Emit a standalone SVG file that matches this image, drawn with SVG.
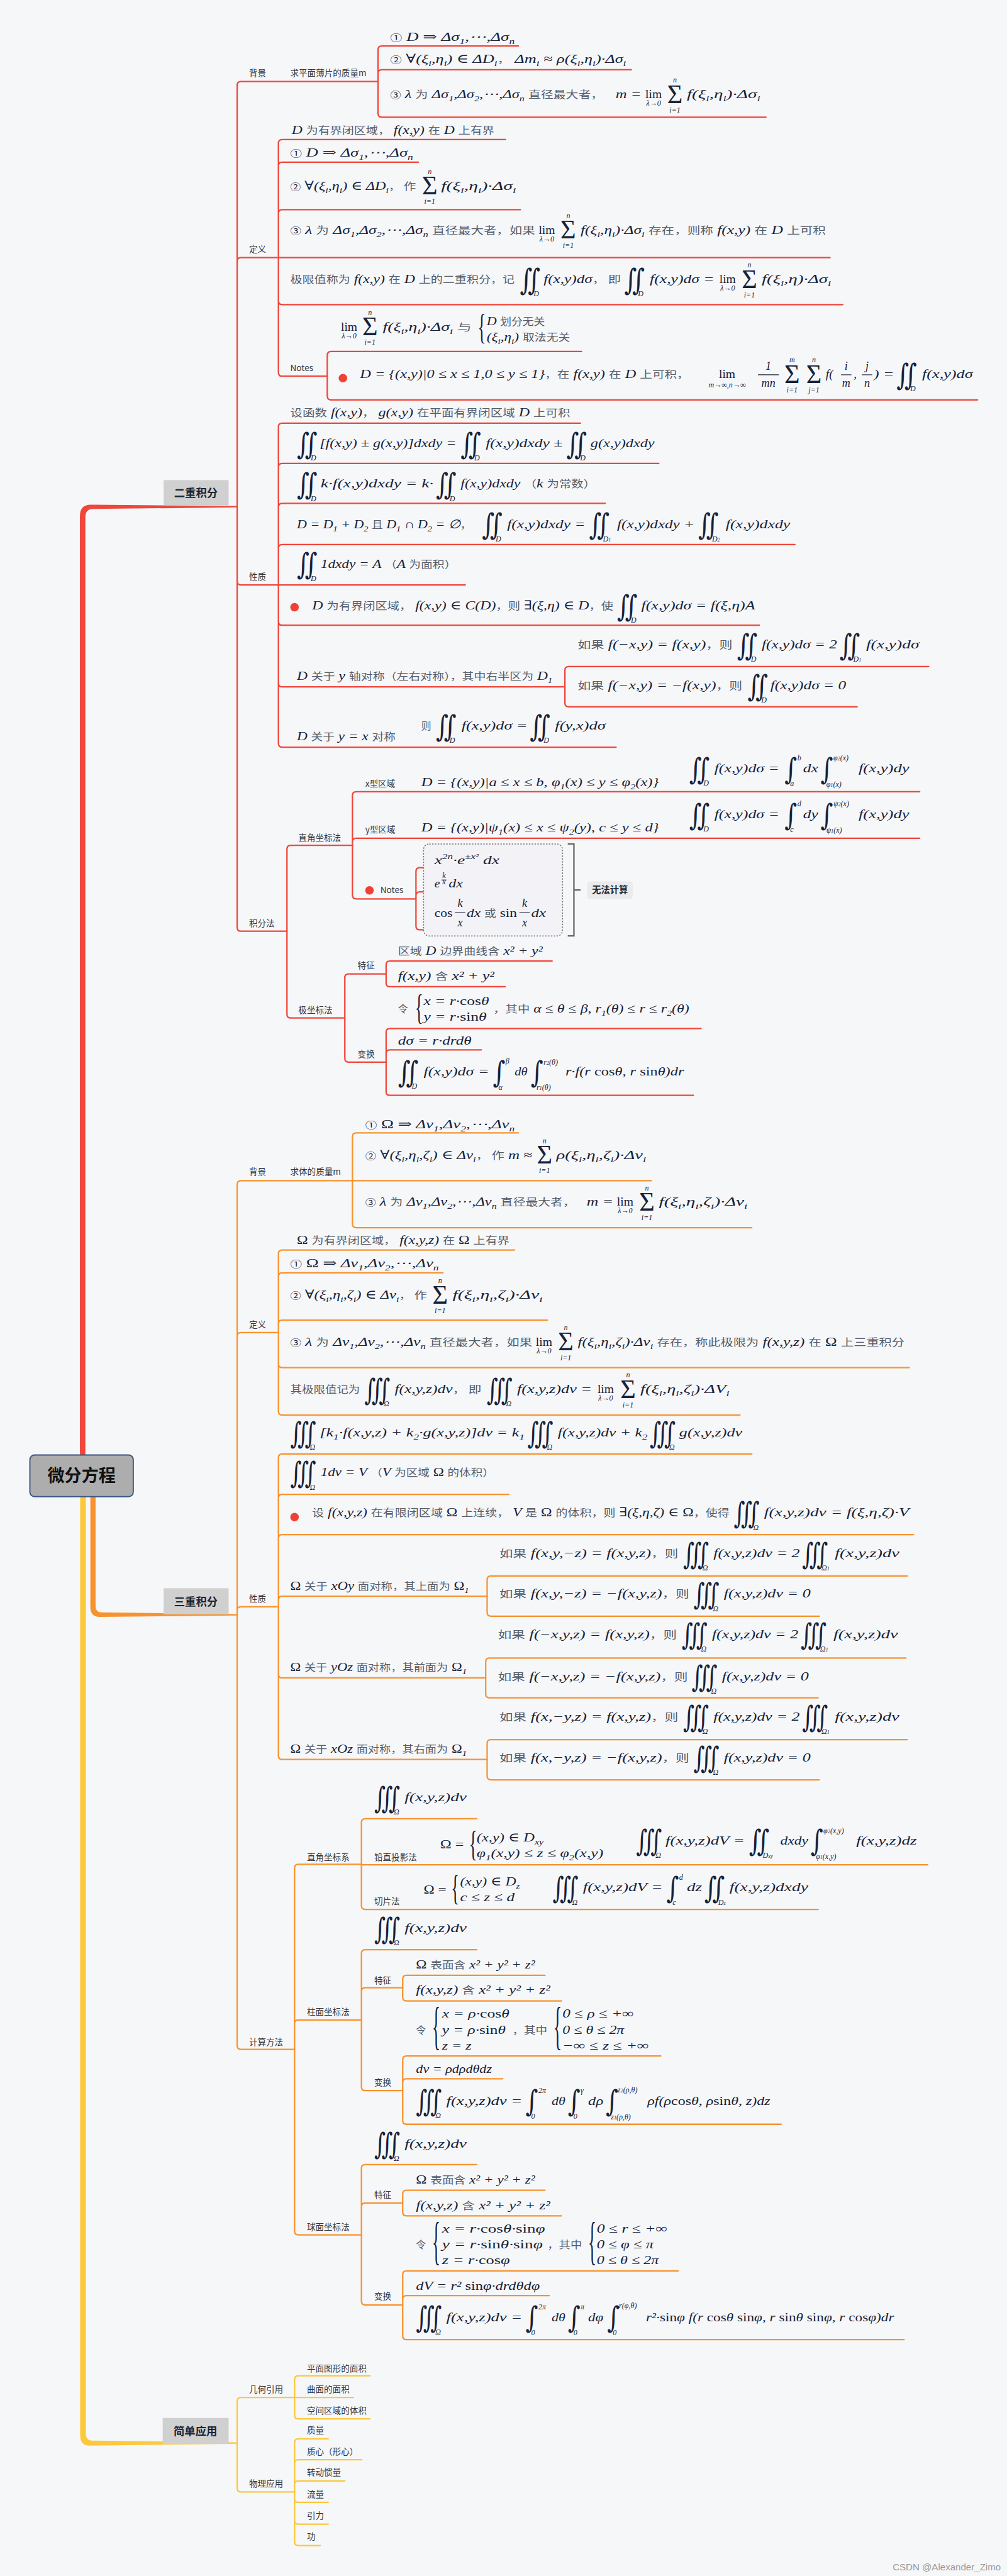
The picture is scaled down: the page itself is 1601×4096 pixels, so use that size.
<svg xmlns="http://www.w3.org/2000/svg" width="1601" height="4096" viewBox="0 0 1601 4096">
<style>
.m{font-family:"Liberation Serif","DejaVu Serif",serif;font-style:italic;font-size:26px;fill:#172238}
.u{font-style:normal}
.cn{font-family:"Noto Sans CJK SC",sans-serif;font-style:normal;font-size:21px;fill:#555d6b}
.ci{font-family:"Noto Sans CJK SC",sans-serif;font-style:normal;font-size:18px}
.s{font-size:17px;baseline-shift:-6px}
.p{font-size:16px;baseline-shift:11px}
.int{font-family:"DejaVu Serif",serif;font-size:46px;fill:#172238}
.sig{font-family:"Liberation Serif",serif;font-size:56px;fill:#172238;text-anchor:middle}
.lim{font-family:"Liberation Serif",serif;font-size:26px;fill:#172238;text-anchor:middle}
.ll{font-family:"Liberation Serif",serif;font-style:italic;font-size:16px;fill:#172238;text-anchor:middle}
.il{font-family:"Liberation Serif",serif;font-style:italic;font-size:16px;fill:#172238}
.fr{font-family:"Liberation Serif",serif;font-style:italic;font-size:24px;fill:#172238;text-anchor:middle}
.br{font-family:"Liberation Serif",serif;font-size:36px;fill:#172238}
.lbl{font-family:"Noto Sans CJK SC","Liberation Sans",sans-serif;font-size:18px;fill:#303640}
.h1{font-family:"Noto Sans CJK SC",sans-serif;font-size:23px;font-weight:bold;fill:#1b2433;text-anchor:middle}
.box{fill:#d0d0d0}
.dot{fill:#ef4136}
.bar{stroke:#172238;stroke-width:1.5}
</style>
<rect width="1601" height="4096" fill="#f6f7f9"/>
<g transform="scale(0.7541,0.7543)">
<g id="connectors" fill="none" stroke-width="3" stroke-linecap="round">
<g stroke="#f0463b">
<path d="M500 1068V180Q500 172 508 172H797M500 1068V551Q500 543 508 543H587M500 1068V1225Q500 1233 508 1233H587M500 1068V1955Q500 1963 508 1963H605"/>
<path d="M797 172V105Q797 97 805 97H1093M797 172V155Q797 147 805 147H1331M797 172V239Q797 247 805 247H1615"/>
<path d="M587 543V302Q587 294 595 294H1066M587 543V350Q587 342 595 342H882M587 543V450Q587 442 595 442H1097M587 543H1750M587 543V634Q587 642 595 642H1777M587 543V785Q587 793 595 793H690"/>
<path d="M690 793V749Q690 741 698 741H1226M690 793V835Q690 843 698 843H2061"/>
<path d="M587 1233V900Q587 892 595 892H1224M587 1233V985Q587 977 595 977H1389M587 1233V1069Q587 1061 595 1061H1276M587 1233V1156Q587 1148 595 1148H1676M587 1233H981M587 1233V1310Q587 1318 595 1318H1601M587 1233V1440Q587 1448 595 1448H1191M587 1233V1567Q587 1575 595 1575H1299"/>
<path d="M1191 1448V1413Q1191 1405 1199 1405H1958M1191 1448V1482Q1191 1490 1199 1490H1807"/>
<path d="M605 1963V1790Q605 1782 613 1782H743M605 1963V2138Q605 2146 613 2146H727"/>
<path d="M743 1782V1677Q743 1669 751 1669H1939M743 1782V1775Q743 1767 751 1767H1939M743 1782V1887Q743 1895 751 1895H877"/>
<path d="M877 1895V1837Q877 1829 885 1829H1075M877 1895V1888Q877 1880 885 1880H999M877 1895V1952Q877 1960 885 1960H1174"/>
<path d="M727 2146V2061Q727 2053 735 2053H814M727 2146V2231Q727 2239 735 2239H814"/>
<path d="M814 2053V2034Q814 2026 822 2026H1164M814 2053V2072Q814 2080 822 2080H1065"/>
<path d="M814 2239V2176Q814 2168 822 2168H1478M814 2239V2221Q814 2213 822 2213H1015M814 2239V2301Q814 2309 822 2309H1462"/>
</g>
<g stroke="#f7932f">
<path d="M500 3404V2497Q500 2489 508 2489H743M500 3404V2817Q500 2809 508 2809H587M500 3404V3395Q500 3387 508 3387H587M500 3404V4312Q500 4320 508 4320H621"/>
<path d="M743 2489V2396Q743 2388 751 2388H1093M743 2489H1373M743 2489V2580Q743 2588 751 2588H1585"/>
<path d="M587 2809V2643Q587 2635 595 2635H1085M587 2809V2691Q587 2683 595 2683H934M587 2809V2791Q587 2783 595 2783H1154M587 2809V2875Q587 2883 595 2883H1917M587 2809V2975Q587 2983 595 2983H1560"/>
<path d="M587 3387V3073Q587 3065 595 3065H1585M587 3387V3158Q587 3150 595 3150H1073M587 3387V3243Q587 3235 595 3235H1926M587 3387V3373Q587 3365 595 3365H1027M587 3387V3529Q587 3537 595 3537H1024M587 3387V3701Q587 3709 595 3709H1027"/>
<path d="M1027 3365V3330Q1027 3322 1035 3322H1913M1027 3365V3399Q1027 3407 1035 3407H1727"/>
<path d="M1024 3537V3503Q1024 3495 1032 3495H1910M1024 3537V3571Q1024 3579 1032 3579H1725"/>
<path d="M1027 3709V3675Q1027 3667 1035 3667H1913M1027 3709V3744Q1027 3752 1035 3752H1727"/>
<path d="M621 4320V3938Q621 3930 629 3930H762M621 4320V4266Q621 4258 629 4258H762M621 4320V4703Q621 4711 629 4711H762"/>
<path d="M762 3930V3842Q762 3834 770 3834H1005M762 3931H1956M762 3930V4017Q762 4025 770 4025H1725"/>
<path d="M762 4258V4118Q762 4110 770 4110H1005M762 4258V4198Q762 4190 770 4190H849M762 4258V4399Q762 4407 770 4407H849"/>
<path d="M849 4190V4172Q849 4164 857 4164H1149M849 4190V4210Q849 4218 857 4218H1184"/>
<path d="M849 4407V4342Q849 4334 857 4334H1393M849 4407V4390Q849 4382 857 4382H1060M849 4407V4470Q849 4478 857 4478H1647"/>
<path d="M762 4711V4571Q762 4563 770 4563H1005M762 4711V4652Q762 4644 770 4644H849M762 4711V4851Q762 4859 770 4859H849"/>
<path d="M849 4644V4625Q849 4617 857 4617H1149M849 4644V4663Q849 4671 857 4671H1184"/>
<path d="M849 4859V4795Q849 4787 857 4787H1430M849 4859V4847Q849 4839 857 4839H1158M849 4859V4924Q849 4932 857 4932H1906"/>
</g>
<g stroke="#fcc83c">
<path d="M500 5150V5062Q500 5054 508 5054H621M500 5150V5245Q500 5253 508 5253H621"/>
<path d="M621 5054V5016Q621 5008 629 5008H780M621 5054H745M621 5054V5091Q621 5099 629 5099H780"/>
<path d="M621 5253V5149Q621 5141 629 5141H692M621 5253V5193Q621 5185 629 5185H763M621 5253V5238Q621 5230 629 5230H727M621 5253V5267Q621 5275 629 5275H692M621 5253V5313Q621 5321 629 5321H692M621 5253V5358Q621 5366 629 5366H675"/>
</g>
<path fill="#f0463b" stroke="none" d="M168.5 3067V1088Q168.5 1063 193 1064L500 1066.5V1069.5L197 1073Q180 1073 180 1090V3067Z"/>
<path fill="#f7932f" stroke="none" d="M190.5 3155V3388Q190.5 3409 211 3408.5L500 3405.5V3402.5L214 3399Q201.5 3399 201.5 3386V3155Z"/>
<path fill="#fcc83c" stroke="none" d="M169 3155V5134Q169 5156 191 5155.5L500 5151.5V5148.5L196 5145Q181 5145 181 5130V3155Z"/>
</g>

<g id="root"><rect x="63" y="3067" width="218" height="88" rx="10" fill="#adadad" stroke="#3b5581" stroke-width="2.5"/><text x="172" y="3124" font-family="Noto Sans CJK SC,sans-serif" font-size="36" font-weight="bold" fill="#111" text-anchor="middle">微分方程</text></g>
<g id="n-erchong"><rect class="box" x="345" y="1012" width="137" height="53"/><text class="h1" x="413" y="1047">二重积分</text></g>
<g id="n-sanchong"><rect class="box" x="345" y="3348" width="137" height="55"/><text class="h1" x="413" y="3384">三重积分</text></g>
<g id="n-yingyong"><rect class="box" x="343" y="5097" width="139" height="55"/><text class="h1" x="412" y="5133">简单应用</text></g>

<g id="labels">
<text class="lbl" x="525" y="161">背景</text><text class="lbl" x="612" y="161">求平面薄片的质量m</text>
<text class="lbl" x="525" y="532">定义</text><text class="lbl" x="612" y="782">Notes</text>
<text class="lbl" x="525" y="1222">性质</text><text class="lbl" x="525" y="1953">积分法</text>
<text class="lbl" x="629" y="1772">直角坐标法</text><text class="lbl" x="770" y="1658">x型区域</text><text class="lbl" x="770" y="1755">y型区域</text>
<circle class="dot" cx="779" cy="1877" r="9"/><text class="lbl" x="802" y="1883">Notes</text>
<text class="lbl" x="629" y="2136">极坐标法</text><text class="lbl" x="754" y="2042">特征</text><text class="lbl" x="754" y="2229">变换</text>
<text class="lbl" x="525" y="2477">背景</text><text class="lbl" x="612" y="2477">求体的质量m</text>
<text class="lbl" x="525" y="2799">定义</text><text class="lbl" x="525" y="3377">性质</text><text class="lbl" x="525" y="4311">计算方法</text>
<text class="lbl" x="647" y="3921">直角坐标系</text><text class="lbl" x="789" y="3922">铅直投影法</text><text class="lbl" x="789" y="4014">切片法</text>
<text class="lbl" x="647" y="4247">柱面坐标法</text><text class="lbl" x="789" y="4181">特征</text><text class="lbl" x="789" y="4396">变换</text>
<text class="lbl" x="647" y="4701">球面坐标法</text><text class="lbl" x="789" y="4634">特征</text><text class="lbl" x="789" y="4847">变换</text>
<text class="lbl" x="525" y="5043">几何引用</text><text class="lbl" x="647" y="4999">平面图形的面积</text><text class="lbl" x="647" y="5043">曲面的面积</text><text class="lbl" x="647" y="5088">空间区域的体积</text>
<text class="lbl" x="525" y="5242">物理应用</text><text class="lbl" x="647" y="5129">质量</text><text class="lbl" x="647" y="5174">质心（形心）</text><text class="lbl" x="647" y="5218">转动惯量</text><text class="lbl" x="647" y="5264">流量</text><text class="lbl" x="647" y="5309">引力</text><text class="lbl" x="647" y="5353">功</text>
</g>

<g id="f1"><text class="m" x="823" y="86" textLength="262" lengthAdjust="spacingAndGlyphs"><tspan class="ci">①</tspan> D ⇒ Δσ<tspan class="s">1</tspan>,⋯,Δσ<tspan class="s">n</tspan></text></g>
<g id="f2"><text class="m" x="823" y="133" textLength="497" lengthAdjust="spacingAndGlyphs"><tspan class="ci">②</tspan> ∀(ξ<tspan class="s">i</tspan>,η<tspan class="s">i</tspan>) ∈ ΔD<tspan class="s">i</tspan><tspan class="cn">，</tspan> Δm<tspan class="s">i</tspan> ≈ ρ(ξ<tspan class="s">i</tspan>,η<tspan class="s">i</tspan>)·Δσ<tspan class="s">i</tspan></text></g>
<g id="f3"><text class="m" x="823" y="207" textLength="449" lengthAdjust="spacingAndGlyphs"><tspan class="ci">③</tspan> λ <tspan class="cn">为</tspan> Δσ<tspan class="s">1</tspan>,Δσ<tspan class="s">2</tspan>,⋯,Δσ<tspan class="s">n</tspan> <tspan class="cn">直径最大者，</tspan></text>
<text class="m" x="1298" y="207" textLength="54" lengthAdjust="spacingAndGlyphs">m =</text>
<text class="lim" x="1378" y="207">lim</text><text class="ll" x="1378" y="223">λ→0</text>
<text class="sig" x="1423" y="217">Σ</text><text class="ll" x="1423" y="174">n</text><text class="ll" x="1423" y="237">i=1</text>
<text class="m" x="1448" y="207" textLength="155" lengthAdjust="spacingAndGlyphs">f(ξ<tspan class="s">i</tspan>,η<tspan class="s">i</tspan>)·Δσ<tspan class="s">i</tspan></text></g>

<g id="f4"><text class="m" x="615" y="282" textLength="427" lengthAdjust="spacingAndGlyphs">D <tspan class="cn">为有界闭区域，</tspan> f(x,y) <tspan class="cn">在</tspan> D <tspan class="cn">上有界</tspan></text></g>
<g id="f5"><text class="m" x="612" y="330" textLength="259" lengthAdjust="spacingAndGlyphs"><tspan class="ci">①</tspan> D ⇒ Δσ<tspan class="s">1</tspan>,⋯,Δσ<tspan class="s">n</tspan></text></g>
<g id="f6"><text class="m" x="612" y="400" textLength="265" lengthAdjust="spacingAndGlyphs"><tspan class="ci">②</tspan> ∀(ξ<tspan class="s">i</tspan>,η<tspan class="s">i</tspan>) ∈ ΔD<tspan class="s">i</tspan><tspan class="cn">， 作</tspan></text>
<text class="sig" x="906" y="410">Σ</text><text class="ll" x="906" y="367">n</text><text class="ll" x="906" y="430">i=1</text>
<text class="m" x="930" y="400" textLength="158" lengthAdjust="spacingAndGlyphs">f(ξ<tspan class="s">i</tspan>,η<tspan class="s">i</tspan>)·Δσ<tspan class="s">i</tspan></text></g>
<g id="f7"><text class="m" x="612" y="493" textLength="516" lengthAdjust="spacingAndGlyphs"><tspan class="ci">③</tspan> λ <tspan class="cn">为</tspan> Δσ<tspan class="s">1</tspan>,Δσ<tspan class="s">2</tspan>,⋯,Δσ<tspan class="s">n</tspan> <tspan class="cn">直径最大者，如果</tspan></text>
<text class="lim" x="1153" y="493">lim</text><text class="ll" x="1153" y="509">λ→0</text>
<text class="sig" x="1198" y="503">Σ</text><text class="ll" x="1198" y="460">n</text><text class="ll" x="1198" y="523">i=1</text>
<text class="m" x="1224" y="493" textLength="517" lengthAdjust="spacingAndGlyphs">f(ξ<tspan class="s">i</tspan>,η<tspan class="s">i</tspan>)·Δσ<tspan class="s">i</tspan> <tspan class="cn">存在，则称</tspan> f(x,y) <tspan class="cn">在</tspan> D <tspan class="cn">上可积</tspan></text></g>
<g id="f8"><text class="m" x="612" y="597" textLength="473" lengthAdjust="spacingAndGlyphs"><tspan class="cn">极限值称为</tspan> f(x,y) <tspan class="cn">在</tspan> D <tspan class="cn">上的二重积分，记</tspan></text>
<text class="int" transform="translate(1096,611) scale(1.1,1.35)">∬</text><text class="il" x="1125" y="625">D</text>
<text class="m" x="1146" y="597" textLength="163" lengthAdjust="spacingAndGlyphs">f(x,y)dσ<tspan class="cn">， 即</tspan></text>
<text class="int" transform="translate(1316,611) scale(1.1,1.35)">∬</text><text class="il" x="1345" y="625">D</text>
<text class="m" x="1370" y="597" textLength="136" lengthAdjust="spacingAndGlyphs">f(x,y)dσ =</text>
<text class="lim" x="1534" y="597">lim</text><text class="ll" x="1534" y="613">λ→0</text>
<text class="sig" x="1580" y="607">Σ</text><text class="ll" x="1580" y="564">n</text><text class="ll" x="1580" y="627">i=1</text>
<text class="m" x="1606" y="597" textLength="146" lengthAdjust="spacingAndGlyphs">f(ξ<tspan class="s">i</tspan>,η)·Δσ<tspan class="s">i</tspan></text></g>
<g id="f9"><text class="lim" x="736" y="697">lim</text><text class="ll" x="736" y="713">λ→0</text>
<text class="sig" x="780" y="707">Σ</text><text class="ll" x="780" y="664">n</text><text class="ll" x="780" y="727">i=1</text>
<text class="m" x="807" y="697" textLength="187" lengthAdjust="spacingAndGlyphs">f(ξ<tspan class="s">i</tspan>,η<tspan class="s">i</tspan>)·Δσ<tspan class="s">i</tspan> <tspan class="cn">与</tspan></text>
<text class="br" transform="translate(1007,714) scale(1,2.1)">{</text>
<text class="m" x="1026" y="685" textLength="123" lengthAdjust="spacingAndGlyphs">D <tspan class="cn">划分无关</tspan></text>
<text class="m" x="1026" y="718" textLength="176" lengthAdjust="spacingAndGlyphs">(ξ<tspan class="s">i</tspan>,η<tspan class="s">i</tspan>) <tspan class="cn">取法无关</tspan></text></g>
<g id="f10"><circle class="dot" cx="723" cy="797" r="9"/>
<text class="m" x="759" y="797" textLength="694" lengthAdjust="spacingAndGlyphs">D = {(x,y)|0 ≤ x ≤ 1,0 ≤ y ≤ 1}<tspan class="cn">，在</tspan> f(x,y) <tspan class="cn">在</tspan> D <tspan class="cn">上可积，</tspan></text>
<text class="lim" x="1533" y="797">lim</text><text class="ll" x="1533" y="816" font-size="15">m→∞,n→∞</text>
<text class="fr u" x="1620" y="780">1</text><line class="bar" x1="1598" y1="790" x2="1642" y2="790"/><text class="fr" x="1620" y="815">mn</text>
<text class="sig" x="1670" y="807">Σ</text><text class="ll" x="1670" y="764">m</text><text class="ll" x="1670" y="827">i=1</text>
<text class="sig" x="1716" y="807">Σ</text><text class="ll" x="1716" y="764">n</text><text class="ll" x="1716" y="827">j=1</text>
<text class="m" x="1741" y="797">f(</text>
<text class="fr" x="1784" y="780">i</text><line class="bar" x1="1773" y1="790" x2="1795" y2="790"/><text class="fr" x="1784" y="815">m</text>
<text class="m" x="1800" y="797">,</text>
<text class="fr" x="1828" y="780">j</text><line class="bar" x1="1817" y1="790" x2="1839" y2="790"/><text class="fr" x="1828" y="815">n</text>
<text class="m" x="1842" y="797" textLength="43" lengthAdjust="spacingAndGlyphs">) =</text>
<text class="int" transform="translate(1890,811) scale(1.1,1.35)">∬</text><text class="il" x="1919" y="825">D</text>
<text class="m" x="1944" y="797" textLength="107" lengthAdjust="spacingAndGlyphs">f(x,y)dσ</text></g>

<g id="f11"><text class="m" x="612" y="878" textLength="590" lengthAdjust="spacingAndGlyphs"><tspan class="cn">设函数</tspan> f(x,y)<tspan class="cn">，</tspan> g(x,y) <tspan class="cn">在平面有界闭区域</tspan> D <tspan class="cn">上可积</tspan></text></g>
<g id="f12"><text class="int" transform="translate(626,957) scale(1.1,1.35)">∬</text><text class="il" x="655" y="971">D</text>
<text class="m" x="674" y="943" textLength="288" lengthAdjust="spacingAndGlyphs">[f(x,y) ± g(x,y)]dxdy =</text>
<text class="int" transform="translate(971,957) scale(1.1,1.35)">∬</text><text class="il" x="1000" y="971">D</text>
<text class="m" x="1024" y="943" textLength="162" lengthAdjust="spacingAndGlyphs">f(x,y)dxdy ±</text>
<text class="int" transform="translate(1194,957) scale(1.1,1.35)">∬</text><text class="il" x="1223" y="971">D</text>
<text class="m" x="1245" y="943" textLength="135" lengthAdjust="spacingAndGlyphs">g(x,y)dxdy</text></g>
<g id="f13"><text class="int" transform="translate(626,1042) scale(1.1,1.35)">∬</text><text class="il" x="655" y="1056">D</text>
<text class="m" x="676" y="1028" textLength="238" lengthAdjust="spacingAndGlyphs">k·f(x,y)dxdy = k·</text>
<text class="int" transform="translate(919,1042) scale(1.1,1.35)">∬</text><text class="il" x="948" y="1056">D</text>
<text class="m" x="971" y="1028" textLength="285" lengthAdjust="spacingAndGlyphs">f(x,y)dxdy <tspan class="cn">（</tspan>k <tspan class="cn">为常数）</tspan></text></g>
<g id="f14"><text class="m" x="626" y="1113" textLength="368" lengthAdjust="spacingAndGlyphs">D = D<tspan class="s">1</tspan> + D<tspan class="s">2</tspan> <tspan class="cn">且</tspan> D<tspan class="s">1</tspan> ∩ D<tspan class="s">2</tspan> = ∅<tspan class="cn">，</tspan></text>
<text class="int" transform="translate(1016,1127) scale(1.1,1.35)">∬</text><text class="il" x="1045" y="1141">D</text>
<text class="m" x="1069" y="1113" textLength="165" lengthAdjust="spacingAndGlyphs">f(x,y)dxdy =</text>
<text class="int" transform="translate(1242,1127) scale(1.1,1.35)">∬</text><text class="il" x="1271" y="1141">D<tspan font-size="11">1</tspan></text>
<text class="m" x="1301" y="1113" textLength="163" lengthAdjust="spacingAndGlyphs">f(x,y)dxdy +</text>
<text class="int" transform="translate(1472,1127) scale(1.1,1.35)">∬</text><text class="il" x="1501" y="1141">D<tspan font-size="11">2</tspan></text>
<text class="m" x="1530" y="1113" textLength="136" lengthAdjust="spacingAndGlyphs">f(x,y)dxdy</text></g>
<g id="f15"><text class="int" transform="translate(626,1211) scale(1.1,1.35)">∬</text><text class="il" x="655" y="1225">D</text>
<text class="m" x="676" y="1197" textLength="286" lengthAdjust="spacingAndGlyphs">1dxdy = A <tspan class="cn">（</tspan>A <tspan class="cn">为面积）</tspan></text></g>
<g id="f16"><circle class="dot" cx="621" cy="1280" r="9"/>
<text class="m" x="658" y="1285" textLength="635" lengthAdjust="spacingAndGlyphs">D <tspan class="cn">为有界闭区域，</tspan> f(x,y) ∈ C(D)<tspan class="cn">，则</tspan> ∃(ξ,η) ∈ D<tspan class="cn">，使</tspan></text>
<text class="int" transform="translate(1301,1299) scale(1.1,1.35)">∬</text><text class="il" x="1330" y="1313">D</text>
<text class="m" x="1352" y="1285" textLength="240" lengthAdjust="spacingAndGlyphs">f(x,y)dσ = f(ξ,η)A</text></g>
<g id="f17"><text class="m" x="626" y="1433" textLength="539" lengthAdjust="spacingAndGlyphs">D <tspan class="cn">关于</tspan> y <tspan class="cn">轴对称（左右对称），其中右半区为</tspan> D<tspan class="s">1</tspan></text></g>
<g id="f18"><text class="m" x="1218" y="1367" textLength="326" lengthAdjust="spacingAndGlyphs"><tspan class="cn">如果</tspan> f(−x,y) = f(x,y)<tspan class="cn">，则</tspan></text>
<text class="int" transform="translate(1554,1381) scale(1.1,1.35)">∬</text><text class="il" x="1583" y="1395">D</text>
<text class="m" x="1606" y="1367" textLength="159" lengthAdjust="spacingAndGlyphs">f(x,y)dσ = 2</text>
<text class="int" transform="translate(1770,1381) scale(1.1,1.35)">∬</text><text class="il" x="1799" y="1395">D<tspan font-size="11">1</tspan></text>
<text class="m" x="1826" y="1367" textLength="112" lengthAdjust="spacingAndGlyphs">f(x,y)dσ</text></g>
<g id="f19"><text class="m" x="1218" y="1453" textLength="347" lengthAdjust="spacingAndGlyphs"><tspan class="cn">如果</tspan> f(−x,y) = −f(x,y)<tspan class="cn">，则</tspan></text>
<text class="int" transform="translate(1576,1467) scale(1.1,1.35)">∬</text><text class="il" x="1605" y="1481">D</text>
<text class="m" x="1624" y="1453" textLength="160" lengthAdjust="spacingAndGlyphs">f(x,y)dσ = 0</text></g>
<g id="f20"><text class="m" x="626" y="1560" textLength="208" lengthAdjust="spacingAndGlyphs">D <tspan class="cn">关于</tspan> y = x <tspan class="cn">对称</tspan></text>
<text class="cn" x="888" y="1538">则</text>
<text class="int" transform="translate(919,1552) scale(1.1,1.35)">∬</text><text class="il" x="948" y="1566">D</text>
<text class="m" x="973" y="1538" textLength="139" lengthAdjust="spacingAndGlyphs">f(x,y)dσ =</text>
<text class="int" transform="translate(1117,1552) scale(1.1,1.35)">∬</text><text class="il" x="1146" y="1566">D</text>
<text class="m" x="1170" y="1538" textLength="107" lengthAdjust="spacingAndGlyphs">f(y,x)dσ</text></g>

<g id="f22"><text class="m" x="888" y="1657" textLength="501" lengthAdjust="spacingAndGlyphs">D = {(x,y)|a ≤ x ≤ b, φ<tspan class="s">1</tspan>(x) ≤ y ≤ φ<tspan class="s">2</tspan>(x)}</text>
<text class="int" transform="translate(1453,1642) scale(1.1,1.35)">∬</text><text class="il" x="1483" y="1656">D</text>
<text class="m" x="1506" y="1628" textLength="137" lengthAdjust="spacingAndGlyphs">f(x,y)dσ =</text>
<text class="int" transform="translate(1654,1642) scale(1.1,1.35)">∫</text><text class="il" x="1681" y="1603">b</text><text class="il" x="1666" y="1657">a</text>
<text class="m" x="1693" y="1628" textLength="32" lengthAdjust="spacingAndGlyphs">dx</text>
<text class="int" transform="translate(1730,1642) scale(1.1,1.35)">∫</text><text class="il" x="1757" y="1603">φ<tspan font-size="11">2</tspan>(x)</text><text class="il" x="1742" y="1658">φ<tspan font-size="11">1</tspan>(x)</text>
<text class="m" x="1810" y="1628" textLength="107" lengthAdjust="spacingAndGlyphs">f(x,y)dy</text></g>
<g id="f24"><text class="m" x="888" y="1753" textLength="501" lengthAdjust="spacingAndGlyphs">D = {(x,y)|ψ<tspan class="s">1</tspan>(x) ≤ x ≤ ψ<tspan class="s">2</tspan>(y), c ≤ y ≤ d}</text>
<text class="int" transform="translate(1453,1739) scale(1.1,1.35)">∬</text><text class="il" x="1483" y="1753">D</text>
<text class="m" x="1506" y="1725" textLength="137" lengthAdjust="spacingAndGlyphs">f(x,y)dσ =</text>
<text class="int" transform="translate(1654,1739) scale(1.1,1.35)">∫</text><text class="il" x="1681" y="1700">d</text><text class="il" x="1666" y="1754">c</text>
<text class="m" x="1693" y="1725" textLength="32" lengthAdjust="spacingAndGlyphs">dy</text>
<text class="int" transform="translate(1730,1739) scale(1.1,1.35)">∫</text><text class="il" x="1757" y="1700">ψ<tspan font-size="11">2</tspan>(x)</text><text class="il" x="1742" y="1755">ψ<tspan font-size="11">1</tspan>(x)</text>
<text class="m" x="1810" y="1725" textLength="107" lengthAdjust="spacingAndGlyphs">f(x,y)dy</text></g>

<g id="notes2"><rect x="893" y="1779" width="293" height="194" rx="12" fill="#f3f3f7" stroke="#777" stroke-width="2" stroke-dasharray="3 3"/>
<path d="M1197 1779H1210V1973H1197M1210 1876H1224" fill="none" stroke="#666" stroke-width="3"/>
<text class="m" x="916" y="1821" textLength="137" lengthAdjust="spacingAndGlyphs">x<tspan class="p">2n</tspan>·e<tspan class="p">±x²</tspan> dx</text>
<text class="m" x="916" y="1871">e</text><text class="ll" x="936" y="1851" font-size="11">k</text><line class="bar" x1="931" y1="1855" x2="941" y2="1855" stroke-width="1"/><text class="ll" x="936" y="1864" font-size="11">x</text>
<text class="m" x="946" y="1871" textLength="30" lengthAdjust="spacingAndGlyphs">dx</text>
<text class="m u" x="916" y="1933" textLength="38" lengthAdjust="spacingAndGlyphs">cos</text>
<text class="fr" x="970" y="1912">k</text><line class="bar" x1="959" y1="1924" x2="981" y2="1924"/><text class="fr" x="970" y="1953">x</text>
<text class="m" x="984" y="1933" textLength="106" lengthAdjust="spacingAndGlyphs">dx <tspan class="cn">或</tspan> <tspan class="u">sin</tspan></text>
<text class="fr" x="1106" y="1912">k</text><line class="bar" x1="1095" y1="1924" x2="1117" y2="1924"/><text class="fr" x="1106" y="1953">x</text>
<text class="m" x="1120" y="1933" textLength="31" lengthAdjust="spacingAndGlyphs">dx</text>
<rect x="1238" y="1858" width="96" height="37" rx="6" fill="#ebebeb"/><text x="1286" y="1883" font-family="Noto Sans CJK SC,sans-serif" font-size="19" font-weight="bold" fill="#1b2433" text-anchor="middle">无法计算</text></g>

<g id="f29"><text class="m" x="839" y="2013" textLength="305" lengthAdjust="spacingAndGlyphs"><tspan class="cn">区域</tspan> D <tspan class="cn">边界曲线含</tspan> x² + y²</text></g>
<g id="f30"><text class="m" x="839" y="2065" textLength="203" lengthAdjust="spacingAndGlyphs">f(x,y) <tspan class="cn">含</tspan> x² + y²</text></g>
<g id="f31"><text class="cn" x="839" y="2135">令</text><text class="br" transform="translate(875,2149) scale(1,2.1)">{</text>
<text class="m" x="893" y="2118" textLength="138" lengthAdjust="spacingAndGlyphs">x = r·<tspan class="u">cos</tspan>θ</text>
<text class="m" x="893" y="2152" textLength="133" lengthAdjust="spacingAndGlyphs">y = r·<tspan class="u">sin</tspan>θ</text>
<text class="m" x="1040" y="2135" textLength="413" lengthAdjust="spacingAndGlyphs"><tspan class="cn">，其中</tspan> α ≤ θ ≤ β, r<tspan class="s">1</tspan>(θ) ≤ r ≤ r<tspan class="s">2</tspan>(θ)</text></g>
<g id="f32"><text class="m" x="839" y="2202" textLength="155" lengthAdjust="spacingAndGlyphs">dσ = r·drdθ</text></g>
<g id="f33"><text class="int" transform="translate(839,2281) scale(1.1,1.35)">∬</text><text class="il" x="868" y="2295">D</text>
<text class="m" x="893" y="2267" textLength="138" lengthAdjust="spacingAndGlyphs">f(x,y)dσ =</text>
<text class="int" transform="translate(1039,2281) scale(1.1,1.35)">∫</text><text class="il" x="1066" y="2242">β</text><text class="il" x="1051" y="2297">α</text>
<text class="m" x="1085" y="2267" textLength="27" lengthAdjust="spacingAndGlyphs">dθ</text>
<text class="int" transform="translate(1119,2281) scale(1.1,1.35)">∫</text><text class="il" x="1146" y="2244">r<tspan font-size="11">2</tspan>(θ)</text><text class="il" x="1131" y="2298">r<tspan font-size="11">1</tspan>(θ)</text>
<text class="m" x="1192" y="2267" textLength="250" lengthAdjust="spacingAndGlyphs">r·f(r <tspan class="u">cos</tspan>θ, r <tspan class="u">sin</tspan>θ)dr</text></g>

<g id="f34"><text class="m" x="770" y="2378" textLength="315" lengthAdjust="spacingAndGlyphs"><tspan class="ci">①</tspan> <tspan class="u">Ω</tspan> ⇒ Δv<tspan class="s">1</tspan>,Δv<tspan class="s">2</tspan>,⋯,Δv<tspan class="s">n</tspan></text></g>
<g id="f35"><text class="m" x="770" y="2443" textLength="352" lengthAdjust="spacingAndGlyphs"><tspan class="ci">②</tspan> ∀(ξ<tspan class="s">i</tspan>,η<tspan class="s">i</tspan>,ζ<tspan class="s">i</tspan>) ∈ Δv<tspan class="s">i</tspan><tspan class="cn">， 作</tspan> m ≈</text>
<text class="sig" x="1148" y="2453">Σ</text><text class="ll" x="1148" y="2410">n</text><text class="ll" x="1148" y="2473">i=1</text>
<text class="m" x="1173" y="2443" textLength="189" lengthAdjust="spacingAndGlyphs">ρ(ξ<tspan class="s">i</tspan>,η<tspan class="s">i</tspan>,ζ<tspan class="s">i</tspan>)·Δv<tspan class="s">i</tspan></text></g>
<g id="f36"><text class="m" x="770" y="2542" textLength="443" lengthAdjust="spacingAndGlyphs"><tspan class="ci">③</tspan> λ <tspan class="cn">为</tspan> Δv<tspan class="s">1</tspan>,Δv<tspan class="s">2</tspan>,⋯,Δv<tspan class="s">n</tspan> <tspan class="cn">直径最大者，</tspan></text>
<text class="m" x="1237" y="2542" textLength="56" lengthAdjust="spacingAndGlyphs">m =</text>
<text class="lim" x="1318" y="2542">lim</text><text class="ll" x="1318" y="2558">λ→0</text>
<text class="sig" x="1364" y="2552">Σ</text><text class="ll" x="1364" y="2509">n</text><text class="ll" x="1364" y="2572">i=1</text>
<text class="m" x="1389" y="2542" textLength="187" lengthAdjust="spacingAndGlyphs">f(ξ<tspan class="s">i</tspan>,η<tspan class="s">i</tspan>,ζ<tspan class="s">i</tspan>)·Δv<tspan class="s">i</tspan></text></g>
<g id="f37"><text class="m" x="626" y="2622" textLength="448" lengthAdjust="spacingAndGlyphs"><tspan class="u">Ω</tspan> <tspan class="cn">为有界闭区域，</tspan> f(x,y,z) <tspan class="cn">在</tspan> <tspan class="u">Ω</tspan> <tspan class="cn">上有界</tspan></text></g>
<g id="f38"><text class="m" x="612" y="2672" textLength="313" lengthAdjust="spacingAndGlyphs"><tspan class="ci">①</tspan> <tspan class="u">Ω</tspan> ⇒ Δv<tspan class="s">1</tspan>,Δv<tspan class="s">2</tspan>,⋯,Δv<tspan class="s">n</tspan></text></g>
<g id="f39"><text class="m" x="612" y="2738" textLength="288" lengthAdjust="spacingAndGlyphs"><tspan class="ci">②</tspan> ∀(ξ<tspan class="s">i</tspan>,η<tspan class="s">i</tspan>,ζ<tspan class="s">i</tspan>) ∈ Δv<tspan class="s">i</tspan><tspan class="cn">， 作</tspan></text>
<text class="sig" x="928" y="2748">Σ</text><text class="ll" x="928" y="2705">n</text><text class="ll" x="928" y="2768">i=1</text>
<text class="m" x="954" y="2738" textLength="190" lengthAdjust="spacingAndGlyphs">f(ξ<tspan class="s">i</tspan>,η<tspan class="s">i</tspan>,ζ<tspan class="s">i</tspan>)·Δv<tspan class="s">i</tspan></text></g>
<g id="f40"><text class="m" x="612" y="2837" textLength="510" lengthAdjust="spacingAndGlyphs"><tspan class="ci">③</tspan> λ <tspan class="cn">为</tspan> Δv<tspan class="s">1</tspan>,Δv<tspan class="s">2</tspan>,⋯,Δv<tspan class="s">n</tspan> <tspan class="cn">直径最大者，如果</tspan></text>
<text class="lim" x="1147" y="2837">lim</text><text class="ll" x="1147" y="2853">λ→0</text>
<text class="sig" x="1193" y="2847">Σ</text><text class="ll" x="1193" y="2804">n</text><text class="ll" x="1193" y="2867">i=1</text>
<text class="m" x="1218" y="2837" textLength="689" lengthAdjust="spacingAndGlyphs">f(ξ<tspan class="s">i</tspan>,η<tspan class="s">i</tspan>,ζ<tspan class="s">i</tspan>)·Δv<tspan class="s">i</tspan> <tspan class="cn">存在，称此极限为</tspan> f(x,y,z) <tspan class="cn">在</tspan> <tspan class="u">Ω</tspan> <tspan class="cn">上三重积分</tspan></text></g>
<g id="f41"><text class="cn" x="612" y="2937" textLength="147" lengthAdjust="spacingAndGlyphs">其极限值记为</text>
<text class="int" transform="translate(768,2951) scale(1,1.35)">∭</text><text class="il" x="809" y="2965">Ω</text>
<text class="m" x="832" y="2937" textLength="183" lengthAdjust="spacingAndGlyphs">f(x,y,z)dv<tspan class="cn">， 即</tspan></text>
<text class="int" transform="translate(1026,2951) scale(1,1.35)">∭</text><text class="il" x="1067" y="2965">Ω</text>
<text class="m" x="1090" y="2937" textLength="158" lengthAdjust="spacingAndGlyphs">f(x,y,z)dv =</text>
<text class="lim" x="1277" y="2937">lim</text><text class="ll" x="1277" y="2953">λ→0</text>
<text class="sig" x="1324" y="2947">Σ</text><text class="ll" x="1324" y="2904">n</text><text class="ll" x="1324" y="2967">i=1</text>
<text class="m" x="1350" y="2937" textLength="188" lengthAdjust="spacingAndGlyphs">f(ξ<tspan class="s">i</tspan>,η<tspan class="s">i</tspan>,ζ<tspan class="s">i</tspan>)·ΔV<tspan class="s">i</tspan></text></g>

<g id="f42"><text class="int" transform="translate(612,3042) scale(1,1.35)">∭</text><text class="il" x="653" y="3056">Ω</text>
<text class="m" x="674" y="3028" textLength="432" lengthAdjust="spacingAndGlyphs">[k<tspan class="s">1</tspan>·f(x,y,z) + k<tspan class="s">2</tspan>·g(x,y,z)]dv = k<tspan class="s">1</tspan></text>
<text class="int" transform="translate(1112,3042) scale(1,1.35)">∭</text><text class="il" x="1153" y="3056">Ω</text>
<text class="m" x="1176" y="3028" textLength="189" lengthAdjust="spacingAndGlyphs">f(x,y,z)dv + k<tspan class="s">2</tspan></text>
<text class="int" transform="translate(1370,3042) scale(1,1.35)">∭</text><text class="il" x="1411" y="3056">Ω</text>
<text class="m" x="1432" y="3028" textLength="133" lengthAdjust="spacingAndGlyphs">g(x,y,z)dv</text></g>
<g id="f43"><text class="int" transform="translate(612,3126) scale(1,1.35)">∭</text><text class="il" x="653" y="3140">Ω</text>
<text class="m" x="676" y="3112" textLength="366" lengthAdjust="spacingAndGlyphs">1dv = V <tspan class="cn">（</tspan>V <tspan class="cn">为区域</tspan> <tspan class="u">Ω</tspan> <tspan class="cn">的体积）</tspan></text></g>
<g id="f44"><circle class="dot" cx="621" cy="3198" r="9"/>
<text class="m" x="658" y="3197" textLength="880" lengthAdjust="spacingAndGlyphs"><tspan class="cn">设</tspan> f(x,y,z) <tspan class="cn">在有限闭区域</tspan> <tspan class="u">Ω</tspan> <tspan class="cn">上连续，</tspan> V <tspan class="cn">是</tspan> <tspan class="u">Ω</tspan> <tspan class="cn">的体积，则</tspan> ∃(ξ,η,ζ) ∈ <tspan class="u">Ω</tspan><tspan class="cn">，使得</tspan></text>
<text class="int" transform="translate(1547,3211) scale(1,1.35)">∭</text><text class="il" x="1588" y="3225">Ω</text>
<text class="m" x="1611" y="3197" textLength="306" lengthAdjust="spacingAndGlyphs">f(x,y,z)dv = f(ξ,η,ζ)·V</text></g>
<g id="f45"><text class="m" x="612" y="3352" textLength="377" lengthAdjust="spacingAndGlyphs"><tspan class="u">Ω</tspan> <tspan class="cn">关于</tspan> xOy <tspan class="cn">面对称，其上面为</tspan> <tspan class="u">Ω</tspan><tspan class="s">1</tspan></text></g>
<g id="f46"><text class="m" x="1053" y="3283" textLength="377" lengthAdjust="spacingAndGlyphs"><tspan class="cn">如果</tspan> f(x,y,−z) = f(x,y,z)<tspan class="cn">，则</tspan></text>
<text class="int" transform="translate(1440,3297) scale(1,1.35)">∭</text><text class="il" x="1481" y="3311">Ω</text>
<text class="m" x="1504" y="3283" textLength="182" lengthAdjust="spacingAndGlyphs">f(x,y,z)dv = 2</text>
<text class="int" transform="translate(1691,3297) scale(1,1.35)">∭</text><text class="il" x="1732" y="3311">Ω<tspan font-size="11">1</tspan></text>
<text class="m" x="1760" y="3283" textLength="136" lengthAdjust="spacingAndGlyphs">f(x,y,z)dv</text></g>
<g id="f47"><text class="m" x="1053" y="3368" textLength="400" lengthAdjust="spacingAndGlyphs"><tspan class="cn">如果</tspan> f(x,y,−z) = −f(x,y,z)<tspan class="cn">，则</tspan></text>
<text class="int" transform="translate(1462,3382) scale(1,1.35)">∭</text><text class="il" x="1503" y="3396">Ω</text>
<text class="m" x="1526" y="3368" textLength="183" lengthAdjust="spacingAndGlyphs">f(x,y,z)dv = 0</text></g>
<g id="f48"><text class="m" x="612" y="3523" textLength="372" lengthAdjust="spacingAndGlyphs"><tspan class="u">Ω</tspan> <tspan class="cn">关于</tspan> yOz <tspan class="cn">面对称，其前面为</tspan> <tspan class="u">Ω</tspan><tspan class="s">1</tspan></text></g>
<g id="f49"><text class="m" x="1050" y="3453" textLength="377" lengthAdjust="spacingAndGlyphs"><tspan class="cn">如果</tspan> f(−x,y,z) = f(x,y,z)<tspan class="cn">，则</tspan></text>
<text class="int" transform="translate(1437,3467) scale(1,1.35)">∭</text><text class="il" x="1478" y="3481">Ω</text>
<text class="m" x="1501" y="3453" textLength="182" lengthAdjust="spacingAndGlyphs">f(x,y,z)dv = 2</text>
<text class="int" transform="translate(1688,3467) scale(1,1.35)">∭</text><text class="il" x="1729" y="3481">Ω<tspan font-size="11">1</tspan></text>
<text class="m" x="1757" y="3453" textLength="136" lengthAdjust="spacingAndGlyphs">f(x,y,z)dv</text></g>
<g id="f50"><text class="m" x="1050" y="3542" textLength="400" lengthAdjust="spacingAndGlyphs"><tspan class="cn">如果</tspan> f(−x,y,z) = −f(x,y,z)<tspan class="cn">，则</tspan></text>
<text class="int" transform="translate(1458,3556) scale(1,1.35)">∭</text><text class="il" x="1499" y="3570">Ω</text>
<text class="m" x="1522" y="3542" textLength="183" lengthAdjust="spacingAndGlyphs">f(x,y,z)dv = 0</text></g>
<g id="f51"><text class="m" x="612" y="3695" textLength="372" lengthAdjust="spacingAndGlyphs"><tspan class="u">Ω</tspan> <tspan class="cn">关于</tspan> xOz <tspan class="cn">面对称，其右面为</tspan> <tspan class="u">Ω</tspan><tspan class="s">1</tspan></text></g>
<g id="f52"><text class="m" x="1053" y="3627" textLength="377" lengthAdjust="spacingAndGlyphs"><tspan class="cn">如果</tspan> f(x,−y,z) = f(x,y,z)<tspan class="cn">，则</tspan></text>
<text class="int" transform="translate(1440,3641) scale(1,1.35)">∭</text><text class="il" x="1481" y="3655">Ω</text>
<text class="m" x="1504" y="3627" textLength="182" lengthAdjust="spacingAndGlyphs">f(x,y,z)dv = 2</text>
<text class="int" transform="translate(1691,3641) scale(1,1.35)">∭</text><text class="il" x="1732" y="3655">Ω<tspan font-size="11">1</tspan></text>
<text class="m" x="1760" y="3627" textLength="136" lengthAdjust="spacingAndGlyphs">f(x,y,z)dv</text></g>
<g id="f53"><text class="m" x="1053" y="3713" textLength="400" lengthAdjust="spacingAndGlyphs"><tspan class="cn">如果</tspan> f(x,−y,z) = −f(x,y,z)<tspan class="cn">，则</tspan></text>
<text class="int" transform="translate(1462,3727) scale(1,1.35)">∭</text><text class="il" x="1503" y="3741">Ω</text>
<text class="m" x="1526" y="3713" textLength="183" lengthAdjust="spacingAndGlyphs">f(x,y,z)dv = 0</text></g>

<g id="f54"><text class="int" transform="translate(789,3811) scale(1,1.35)">∭</text><text class="il" x="830" y="3825">Ω</text>
<text class="m" x="853" y="3797" textLength="131" lengthAdjust="spacingAndGlyphs">f(x,y,z)dv</text></g>
<g id="f55"><text class="m u" x="928" y="3897" textLength="50" lengthAdjust="spacingAndGlyphs">Ω =</text><text class="br" transform="translate(989,3912) scale(1,2.1)">{</text>
<text class="m" x="1005" y="3882" textLength="141" lengthAdjust="spacingAndGlyphs">(x,y) ∈ D<tspan class="s">xy</tspan></text>
<text class="m" x="1005" y="3915" textLength="267" lengthAdjust="spacingAndGlyphs">φ<tspan class="s">1</tspan>(x,y) ≤ z ≤ φ<tspan class="s">2</tspan>(x,y)</text>
<text class="int" transform="translate(1341,3902) scale(1,1.35)">∭</text><text class="il" x="1382" y="3916">Ω</text>
<text class="m" x="1403" y="3888" textLength="167" lengthAdjust="spacingAndGlyphs">f(x,y,z)dV =</text>
<text class="int" transform="translate(1579,3902) scale(1.1,1.35)">∬</text><text class="il" x="1608" y="3916">D<tspan font-size="11">xy</tspan></text>
<text class="m" x="1645" y="3888" textLength="59" lengthAdjust="spacingAndGlyphs">dxdy</text>
<text class="int" transform="translate(1709,3902) scale(1.1,1.35)">∫</text><text class="il" x="1736" y="3864">φ<tspan font-size="11">2</tspan>(x,y)</text><text class="il" x="1720" y="3919">φ<tspan font-size="11">1</tspan>(x,y)</text>
<text class="m" x="1805" y="3888" textLength="128" lengthAdjust="spacingAndGlyphs">f(x,y,z)dz</text></g>
<g id="f57"><text class="m u" x="893" y="3992" textLength="48" lengthAdjust="spacingAndGlyphs">Ω =</text><text class="br" transform="translate(951,4005) scale(1,2.1)">{</text>
<text class="m" x="970" y="3975" textLength="126" lengthAdjust="spacingAndGlyphs">(x,y) ∈ D<tspan class="s">z</tspan></text>
<text class="m" x="970" y="4008" textLength="115" lengthAdjust="spacingAndGlyphs">c ≤ z ≤ d</text>
<text class="int" transform="translate(1165,4001) scale(1,1.35)">∭</text><text class="il" x="1206" y="4015">Ω</text>
<text class="m" x="1229" y="3987" textLength="168" lengthAdjust="spacingAndGlyphs">f(x,y,z)dV =</text>
<text class="int" transform="translate(1405,4001) scale(1.1,1.35)">∫</text><text class="il" x="1432" y="3962">d</text><text class="il" x="1418" y="4016">c</text>
<text class="m" x="1448" y="3987" textLength="32" lengthAdjust="spacingAndGlyphs">dz</text>
<text class="int" transform="translate(1485,4001) scale(1.1,1.35)">∬</text><text class="il" x="1514" y="4015">D<tspan font-size="11">z</tspan></text>
<text class="m" x="1538" y="3987" textLength="166" lengthAdjust="spacingAndGlyphs">f(x,y,z)dxdy</text></g>

<g id="f59"><text class="int" transform="translate(789,4087) scale(1,1.35)">∭</text><text class="il" x="830" y="4101">Ω</text>
<text class="m" x="853" y="4073" textLength="131" lengthAdjust="spacingAndGlyphs">f(x,y,z)dv</text></g>
<g id="f60"><text class="m" x="877" y="4150" textLength="251" lengthAdjust="spacingAndGlyphs"><tspan class="u">Ω</tspan> <tspan class="cn">表面含</tspan> x² + y² + z²</text></g>
<g id="f61"><text class="m" x="877" y="4203" textLength="283" lengthAdjust="spacingAndGlyphs">f(x,y,z) <tspan class="cn">含</tspan> x² + y² + z²</text></g>
<g id="f62"><text class="cn" x="877" y="4287">令</text><text class="br" transform="translate(911,4307) scale(1,3)">{</text>
<text class="m" x="932" y="4253" textLength="142" lengthAdjust="spacingAndGlyphs">x = ρ·<tspan class="u">cos</tspan>θ</text>
<text class="m" x="932" y="4287" textLength="134" lengthAdjust="spacingAndGlyphs">y = ρ·<tspan class="u">sin</tspan>θ</text>
<text class="m" x="932" y="4320" textLength="62" lengthAdjust="spacingAndGlyphs">z = z</text>
<text class="cn" x="1080" y="4287" textLength="74" lengthAdjust="spacingAndGlyphs">，其中</text><text class="br" transform="translate(1167,4307) scale(1,3)">{</text>
<text class="m" x="1186" y="4253" textLength="150" lengthAdjust="spacingAndGlyphs">0 ≤ ρ ≤ +∞</text>
<text class="m" x="1186" y="4287" textLength="130" lengthAdjust="spacingAndGlyphs">0 ≤ θ ≤ 2π</text>
<text class="m" x="1186" y="4320" textLength="182" lengthAdjust="spacingAndGlyphs">−∞ ≤ z ≤ +∞</text></g>
<g id="f63"><text class="m" x="877" y="4370" textLength="160" lengthAdjust="spacingAndGlyphs">dv = ρdρdθdz</text></g>
<g id="f64"><text class="int" transform="translate(877,4451) scale(1,1.35)">∭</text><text class="il" x="918" y="4465">Ω</text>
<text class="m" x="941" y="4437" textLength="160" lengthAdjust="spacingAndGlyphs">f(x,y,z)dv =</text>
<text class="int" transform="translate(1108,4451) scale(1.1,1.35)">∫</text><text class="il" x="1135" y="4412">2π</text><text class="il" x="1120" y="4467">0</text>
<text class="m" x="1163" y="4437" textLength="29" lengthAdjust="spacingAndGlyphs">dθ</text>
<text class="int" transform="translate(1197,4451) scale(1.1,1.35)">∫</text><text class="il" x="1224" y="4412">γ</text><text class="il" x="1209" y="4467">0</text>
<text class="m" x="1240" y="4437" textLength="32" lengthAdjust="spacingAndGlyphs">dρ</text>
<text class="int" transform="translate(1277,4451) scale(1.1,1.35)">∫</text><text class="il" x="1302" y="4411">z<tspan font-size="11">2</tspan>(ρ,θ)</text><text class="il" x="1288" y="4468">z<tspan font-size="11">1</tspan>(ρ,θ)</text>
<text class="m" x="1365" y="4437" textLength="259" lengthAdjust="spacingAndGlyphs">ρf(ρ<tspan class="u">cos</tspan>θ, ρ<tspan class="u">sin</tspan>θ, z)dz</text></g>

<g id="f65"><text class="int" transform="translate(789,4541) scale(1,1.35)">∭</text><text class="il" x="830" y="4555">Ω</text>
<text class="m" x="853" y="4527" textLength="131" lengthAdjust="spacingAndGlyphs">f(x,y,z)dv</text></g>
<g id="f66"><text class="m" x="877" y="4603" textLength="251" lengthAdjust="spacingAndGlyphs"><tspan class="u">Ω</tspan> <tspan class="cn">表面含</tspan> x² + y² + z²</text></g>
<g id="f67"><text class="m" x="877" y="4657" textLength="283" lengthAdjust="spacingAndGlyphs">f(x,y,z) <tspan class="cn">含</tspan> x² + y² + z²</text></g>
<g id="f68"><text class="cn" x="877" y="4740">令</text><text class="br" transform="translate(911,4761) scale(1,3)">{</text>
<text class="m" x="932" y="4707" textLength="217" lengthAdjust="spacingAndGlyphs">x = r·<tspan class="u">cos</tspan>θ·<tspan class="u">sin</tspan>φ</text>
<text class="m" x="932" y="4740" textLength="212" lengthAdjust="spacingAndGlyphs">y = r·<tspan class="u">sin</tspan>θ·<tspan class="u">sin</tspan>φ</text>
<text class="m" x="932" y="4773" textLength="143" lengthAdjust="spacingAndGlyphs">z = r·<tspan class="u">cos</tspan>φ</text>
<text class="cn" x="1154" y="4740" textLength="73" lengthAdjust="spacingAndGlyphs">，其中</text><text class="br" transform="translate(1240,4761) scale(1,3)">{</text>
<text class="m" x="1258" y="4707" textLength="149" lengthAdjust="spacingAndGlyphs">0 ≤ r ≤ +∞</text>
<text class="m" x="1258" y="4740" textLength="120" lengthAdjust="spacingAndGlyphs">0 ≤ φ ≤ π</text>
<text class="m" x="1258" y="4773" textLength="131" lengthAdjust="spacingAndGlyphs">0 ≤ θ ≤ 2π</text></g>
<g id="f69"><text class="m" x="877" y="4827" textLength="261" lengthAdjust="spacingAndGlyphs">dV = r² <tspan class="u">sin</tspan>φ·drdθdφ</text></g>
<g id="f70"><text class="int" transform="translate(877,4907) scale(1,1.35)">∭</text><text class="il" x="918" y="4921">Ω</text>
<text class="m" x="941" y="4893" textLength="160" lengthAdjust="spacingAndGlyphs">f(x,y,z)dv =</text>
<text class="int" transform="translate(1108,4907) scale(1.1,1.35)">∫</text><text class="il" x="1135" y="4868">2π</text><text class="il" x="1120" y="4923">0</text>
<text class="m" x="1163" y="4893" textLength="29" lengthAdjust="spacingAndGlyphs">dθ</text>
<text class="int" transform="translate(1197,4907) scale(1.1,1.35)">∫</text><text class="il" x="1224" y="4868">π</text><text class="il" x="1209" y="4923">0</text>
<text class="m" x="1240" y="4893" textLength="32" lengthAdjust="spacingAndGlyphs">dφ</text>
<text class="int" transform="translate(1280,4907) scale(1.1,1.35)">∫</text><text class="il" x="1305" y="4866">r(φ,θ)</text><text class="il" x="1292" y="4923">0</text>
<text class="m" x="1362" y="4893" textLength="523" lengthAdjust="spacingAndGlyphs">r²·<tspan class="u">sin</tspan>φ f(r <tspan class="u">cos</tspan>θ <tspan class="u">sin</tspan>φ, r <tspan class="u">sin</tspan>θ <tspan class="u">sin</tspan>φ, r <tspan class="u">cos</tspan>φ)dr</text></g>

<text x="2110" y="5418" font-family="Liberation Sans,sans-serif" font-size="20" fill="#9a9a9a" text-anchor="end">CSDN @Alexander_Zimo</text>
</g>
</svg>
